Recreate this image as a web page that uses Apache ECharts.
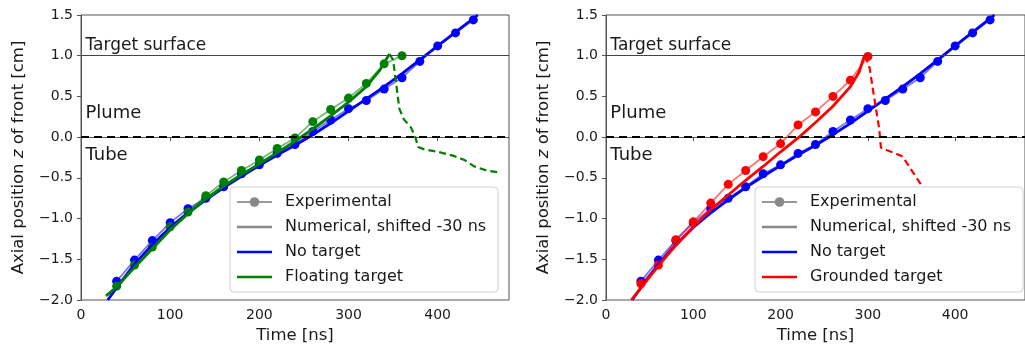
<!DOCTYPE html>
<html>
<head>
<meta charset="utf-8">
<script src="https://cdn.jsdelivr.net/npm/echarts@6/dist/echarts.min.js"></script>
<style>
  html, body { margin: 0; padding: 0; background: #fff; }
  #chart { width: 1025px; height: 351px; }
</style>
</head>
<body>
<div id="chart"></div>
<script>
// experimental points (every 20 ns)
const noTargetExpTimes = [40, 60, 80, 100, 120, 140, 160, 180, 200, 220, 240, 260, 280, 300, 320, 340, 360, 380, 400, 420, 440];
const noTargetExp = [-1.77, -1.51, -1.27, -1.05, -0.88, -0.75, -0.61, -0.45, -0.34, -0.20, -0.09, 0.07, 0.21, 0.35, 0.45, 0.59, 0.73, 0.93, 1.12, 1.28, 1.44];

const floatingExpTimes = [40, 60, 80, 100, 120, 140, 160, 180, 200, 220, 240, 260, 280, 300, 320, 340, 360];
const floatingExp = [-1.83, -1.57, -1.35, -1.10, -0.92, -0.72, -0.55, -0.41, -0.28, -0.14, -0.01, 0.19, 0.34, 0.48, 0.66, 0.90, 1.00];

const groundedExpTimes = [40, 60, 80, 100, 120, 140, 160, 180, 200, 220, 240, 260, 280, 300];
const groundedExp = [-1.80, -1.57, -1.26, -1.04, -0.81, -0.58, -0.41, -0.24, -0.08, 0.15, 0.31, 0.50, 0.70, 0.99];

// numerical curves (shifted -30 ns)
const noTargetNumTimes = [30, 40, 60, 80, 100, 120, 140, 160, 180, 200, 220, 240, 260, 280, 300, 320, 340, 360, 380, 400, 420, 445];
const noTargetNum = [-2.0, -1.85, -1.56, -1.32, -1.11, -0.93, -0.77, -0.62, -0.48, -0.35, -0.22, -0.10, 0.03, 0.17, 0.32, 0.47, 0.62, 0.78, 0.95, 1.12, 1.29, 1.50];

const floatingNumTimes = [28, 40, 60, 80, 100, 120, 140, 160, 180, 200, 220, 240, 260, 280, 300, 320, 335, 342, 346];
const floatingNum = [-1.95, -1.84, -1.60, -1.37, -1.14, -0.94, -0.76, -0.60, -0.46, -0.33, -0.19, -0.05, 0.10, 0.26, 0.43, 0.62, 0.82, 0.95, 1.02];
const floatingDashTimes = [346, 350, 353, 357, 362, 370, 375, 378, 385, 400, 418, 430, 441, 455, 467];
const floatingDash = [1.02, 0.95, 0.70, 0.35, 0.22, 0.12, 0.0, -0.12, -0.15, -0.18, -0.23, -0.28, -0.36, -0.41, -0.43];

const groundedNumTimes = [29, 40, 60, 80, 100, 120, 140, 160, 180, 200, 220, 240, 260, 280, 290, 296];
const groundedNum = [-2.0, -1.85, -1.58, -1.33, -1.10, -0.89, -0.71, -0.53, -0.36, -0.18, -0.01, 0.18, 0.38, 0.62, 0.80, 1.0];
const groundedDashTimes = [297, 302, 306, 310, 313, 315, 322, 332, 340, 349, 362];
const groundedDash = [1.0, 0.85, 0.57, 0.30, 0.10, -0.13, -0.16, -0.20, -0.24, -0.39, -0.60];

// reference lines and region labels
const targetSurface = 1.0;
const tubeExit = 0.0;
const regionLabels = ["Target surface", "Plume", "Tube"];
const regionLabelX = [5, 5, 5];
const regionLabelY = [1.13, 0.29, -0.22];

const xTicks = { min: 0, max: 480, interval: 100 };
const yTicks = { min: -2.0, max: 1.5, interval: 0.5 };

const legendNames = ["Experimental", "Numerical, shifted -30 ns", "No target"];

const FONT = "DejaVu Sans";
const TEXT = "#1a1a1a";
const SPINE = "#555";
const BLUE = "#0000ff";
const GREEN = "#008000";
const RED = "#ff0000";
const LINE_ICON = "path://M0,0H35V2.6H0Z";

function zip(xs, ys) {
  return xs.map((x, i) => [x, ys[i]]);
}

function expSeries(name, idx, color, times, values) {
  return {
    name, type: "line", xAxisIndex: idx, yAxisIndex: idx,
    data: zip(times, values),
    symbol: "circle", symbolSize: 9, showSymbol: true,
    lineStyle: { color, width: 1.8, opacity: 0.55 },
    itemStyle: { color },
    z: 3,
  };
}

function numSeries(name, idx, color, times, values, dashed) {
  return {
    name, type: "line", xAxisIndex: idx, yAxisIndex: idx,
    data: zip(times, values),
    symbol: "none",
    lineStyle: { color, width: dashed ? 2.2 : 2.8, type: dashed ? [7, 4] : "solid" },
    itemStyle: { color },
    z: 4,
  };
}

function helperSeries(idx) {
  const sizes = [17, 18, 18];
  return {
    type: "scatter", xAxisIndex: idx, yAxisIndex: idx,
    symbolSize: 0, silent: true, z: 2,
    itemStyle: { opacity: 1 },
    data: regionLabels.map((text, i) => ({
      value: [regionLabelX[i], regionLabelY[i]],
      label: {
        show: true, position: "right", distance: 0,
        formatter: text, fontFamily: FONT, fontSize: sizes[i], color: TEXT,
      },
    })),
    markLine: {
      silent: true, symbol: "none", label: { show: false },
      data: [
        { yAxis: targetSurface, lineStyle: { color: "#444", width: 1.2, type: "solid" } },
        { yAxis: tubeExit, lineStyle: { color: "#000", width: 2, type: [8, 5] } },
      ],
    },
  };
}

function grid(left) {
  return {
    left, top: 15, width: 428, height: 285,
    show: true, borderColor: SPINE, borderWidth: 1, backgroundColor: "transparent",
  };
}

function xAxis(idx) {
  return {
    type: "value", gridIndex: idx, ...xTicks,
    name: "Time [ns]", nameLocation: "middle", nameGap: 26,
    nameTextStyle: { fontFamily: FONT, fontSize: 16.5, color: TEXT },
    axisLine: { show: true, lineStyle: { color: SPINE } },
    axisTick: { show: true, length: 4, lineStyle: { color: SPINE } },
    axisLabel: { fontFamily: FONT, fontSize: 14, color: TEXT, margin: 8, showMaxLabel: false },
    splitLine: { show: false },
  };
}

function yAxis(idx) {
  return {
    type: "value", gridIndex: idx, ...yTicks,
    name: "Axial position {i|z} of front [cm]", nameLocation: "middle", nameGap: 54,
    nameTextStyle: {
      fontFamily: FONT, fontSize: 16.5, color: TEXT,
      rich: { i: { fontFamily: FONT, fontSize: 16.5, fontStyle: "italic", color: TEXT } },
    },
    axisLine: { show: true, lineStyle: { color: SPINE } },
    axisTick: { show: true, length: 4, lineStyle: { color: SPINE } },
    axisLabel: {
      fontFamily: FONT, fontSize: 14, color: TEXT, margin: 8,
      formatter: (v) => v.toFixed(1).replace("-", "\u2212"),
    },
    splitLine: { show: false },
  };
}

function legend(left, targetName) {
  const items = [...legendNames, targetName].map((name, i) =>
    i === 0 ? { name } : { name, icon: LINE_ICON });
  return {
    orient: "vertical", left, top: 187,
    data: items,
    itemWidth: 35, itemHeight: 12, itemGap: 7,
    padding: [6, 12, 6, 6],
    backgroundColor: "rgba(255,255,255,0.85)",
    borderColor: "#d0d0d0", borderWidth: 1, borderRadius: 4,
    textStyle: { fontFamily: FONT, fontSize: 16, color: TEXT, lineHeight: 18, padding: [0, 0, 0, 8] },
    selectedMode: false,
  };
}

const series = [
  // legend-only entries in grey
  {
    name: "Experimental", type: "line", data: [], symbol: "circle", symbolSize: 7,
    lineStyle: { color: "#999", width: 1.5 }, itemStyle: { color: "#888" },
  },
  {
    name: "Numerical, shifted -30 ns", type: "line", data: [], symbol: "none",
    lineStyle: { color: "#888", width: 2 }, itemStyle: { color: "#888" },
  },
  // left: floating target
  helperSeries(0),
  expSeries("No target exp", 0, BLUE, noTargetExpTimes, noTargetExp),
  numSeries("No target", 0, BLUE, noTargetNumTimes, noTargetNum, false),
  expSeries("Floating target exp", 0, GREEN, floatingExpTimes, floatingExp),
  numSeries("Floating target", 0, GREEN, floatingNumTimes, floatingNum, false),
  numSeries("Floating target dash", 0, GREEN, floatingDashTimes, floatingDash, true),
  // right: grounded target
  helperSeries(1),
  expSeries("No target exp", 1, BLUE, noTargetExpTimes, noTargetExp),
  numSeries("No target", 1, BLUE, noTargetNumTimes, noTargetNum, false),
  expSeries("Grounded target exp", 1, RED, groundedExpTimes, groundedExp),
  numSeries("Grounded target", 1, RED, groundedNumTimes, groundedNum, false),
  numSeries("Grounded target dash", 1, RED, groundedDashTimes, groundedDash, true),
];

const chart = echarts.init(document.getElementById("chart"), null, { renderer: "canvas" });
chart.setOption({
  animation: false,
  backgroundColor: "#fff",
  textStyle: { fontFamily: FONT },
  grid: [grid(81), grid(606)],
  xAxis: [xAxis(0), xAxis(1)],
  yAxis: [yAxis(0), yAxis(1)],
  legend: [legend(230, "Floating target"), legend(755, "Grounded target")],
  series,
});
</script>
</body>
</html>
